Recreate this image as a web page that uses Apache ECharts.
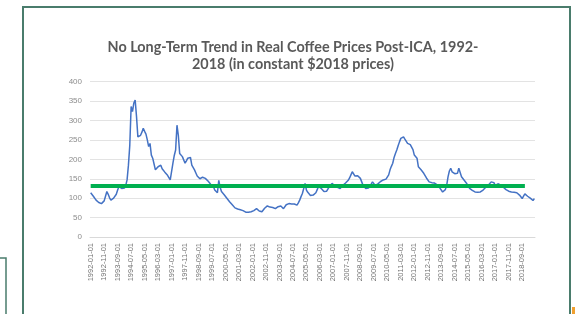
<!DOCTYPE html>
<html>
<head>
<meta charset="utf-8">
<script src="https://cdn.jsdelivr.net/npm/echarts@6/dist/echarts.min.js"></script>
<style>
  html, body { margin: 0; padding: 0; background: #fff; }
  #chart { width: 575px; height: 314px; }
</style>
</head>
<body>
<div id="chart"></div>
<script>
// monthly real coffee price, 1992-01 .. 2019-06
const firstYear = 1992
const prices1990s = [
  114, 109, 105, 100, 95, 91, 89, 87, 86, 85, 93, 105,      // 1992
  117, 110, 101, 95, 97, 100, 104, 110, 121, 130, 126, 125, // 1993
  127, 126, 133, 147, 185, 236, 336, 323, 345, 353, 310, 258, // 1994
  259, 262, 270, 280, 272, 265, 250, 233, 241, 211, 203, 188, // 1995
  173, 178, 181, 183, 185, 176, 171, 167, 163, 159, 153, 147, // 1996
  146, 190, 210, 224, 288, 262, 215, 210, 207, 211, 190, 196, // 1997
  203, 206, 205, 185, 180, 173, 165, 157, 153, 150, 152, 154, // 1998
  156, 151, 146, 144, 140, 136, 133, 130, 121, 118, 114, 146  // 1999
]
const prices2000s = [
  128, 117, 112, 109, 106, 100, 95, 91, 87, 83, 78, 75,     // 2000
  73, 72, 71, 70, 70, 68, 66, 64, 63, 64, 64, 65,           // 2001
  65, 68, 70, 73, 70, 67, 66, 65, 70, 74, 77, 80,           // 2002
  79, 77, 78, 76, 74, 73, 75, 78, 80, 80, 76, 73,           // 2003
  78, 83, 87, 86, 86, 85, 84, 85, 85, 82, 88, 95,           // 2004
  104, 112, 125, 138, 121, 115, 110, 107, 106, 108, 111, 114, // 2005
  122, 130, 128, 125, 120, 117, 114, 118, 124, 130, 134, 138, // 2006
  135, 132, 130, 128, 126, 125, 129, 133, 136, 139, 142, 146, // 2007
  152, 160, 168, 163, 157, 157, 158, 157, 151, 142, 133, 128, // 2008
  125, 122, 126, 130, 136, 142, 137, 133, 135, 137, 139, 143  // 2009
]
const prices2010s = [
  146, 147, 148, 149, 151, 160, 173, 182, 190, 205, 215, 224, // 2010
  235, 245, 254, 257, 258, 252, 247, 241, 240, 238, 237, 225, // 2011
  211, 208, 203, 181, 177, 173, 176, 164, 160, 152, 147, 142, // 2012
  141, 140, 140, 139, 137, 134, 130, 126, 121, 116, 111, 122, // 2013
  133, 155, 170, 177, 168, 164, 163, 164, 164, 177, 166, 155, // 2014
  150, 146, 142, 137, 131, 125, 122, 120, 117, 116, 117, 115, // 2015
  114, 116, 118, 121, 125, 128, 131, 134, 138, 142, 146, 140, // 2016
  133, 134, 137, 138, 134, 130, 128, 125, 122, 120, 118, 117, // 2017
  116, 116, 115, 115, 114, 113, 108, 104, 99, 105, 111, 108,  // 2018
  105, 103, 100, 97, 94, 99                                   // 2019
]
const prices = prices1990s.concat(prices2000s, prices2010s)

// flat line drawn across the chart
const trendLevel = 131
const trendEnd = '2018-11-01'

const titleText = 'No Long-Term Trend in Real Coffee Prices Post-ICA, 1992-\n2018 (in constant $2018 prices)'

const months = prices.map(function (v, i) {
  const y = firstYear + Math.floor(i / 12)
  const m = (i % 12) + 1
  return y + '-' + (m < 10 ? '0' + m : m) + '-01'
})

const frameColor = '#4a7c6c'
const chart = echarts.init(document.getElementById('chart'))
chart.setOption({
  backgroundColor: '#fff',
  animation: false,
  graphic: [
    { type: 'rect', shape: { x: 23, y: 7, width: 547, height: 330 }, style: { fill: '#fff', stroke: frameColor, lineWidth: 2 }, z: -10 },
    { type: 'rect', shape: { x: -10, y: 258, width: 16, height: 80 }, style: { fill: 'none', stroke: frameColor, lineWidth: 1.5 }, z: -10 },
    { type: 'rect', shape: { x: 572, y: 307, width: 4, height: 8 }, style: { fill: '#f0a030' }, z: -10 },
    {
      type: 'text',
      x: 293,
      y: 39,
      style: {
        text: titleText,
        textAlign: 'center',
        textVerticalAlign: 'top',
        fontFamily: 'Lato',
        fontSize: 14.4,
        fontWeight: 'bold',
        fill: '#595959',
        lineHeight: 17
      }
    }
  ],
  grid: { left: 90, right: 40, top: 81.7, bottom: 77 },
  xAxis: {
    type: 'category',
    data: months,
    boundaryGap: true,
    axisLine: { lineStyle: { color: '#d9d9d9' } },
    axisTick: { show: false },
    axisLabel: {
      interval: 9,
      rotate: 90,
      fontSize: 7.5,
      color: '#737373',
      fontFamily: 'Liberation Sans Narrow, Liberation Sans',
      margin: 6
    }
  },
  yAxis: {
    type: 'value',
    min: 0,
    max: 400,
    interval: 50,
    axisLine: { show: false },
    axisTick: { show: false },
    splitLine: { lineStyle: { color: '#e3e3e3' } },
    axisLabel: { fontSize: 8, color: '#8c8c8c', fontFamily: 'Liberation Sans', margin: 8 }
  },
  series: [{
    type: 'line',
    data: prices,
    showSymbol: false,
    lineStyle: { color: '#4472c4', width: 1.5 },
    markLine: {
      symbol: 'none',
      silent: true,
      label: { show: false },
      lineStyle: { color: '#00b050', width: 4, type: 'solid' },
      data: [[{ coord: [months[0], trendLevel] }, { coord: [trendEnd, trendLevel] }]]
    }
  }]
})
</script>
</body>
</html>
